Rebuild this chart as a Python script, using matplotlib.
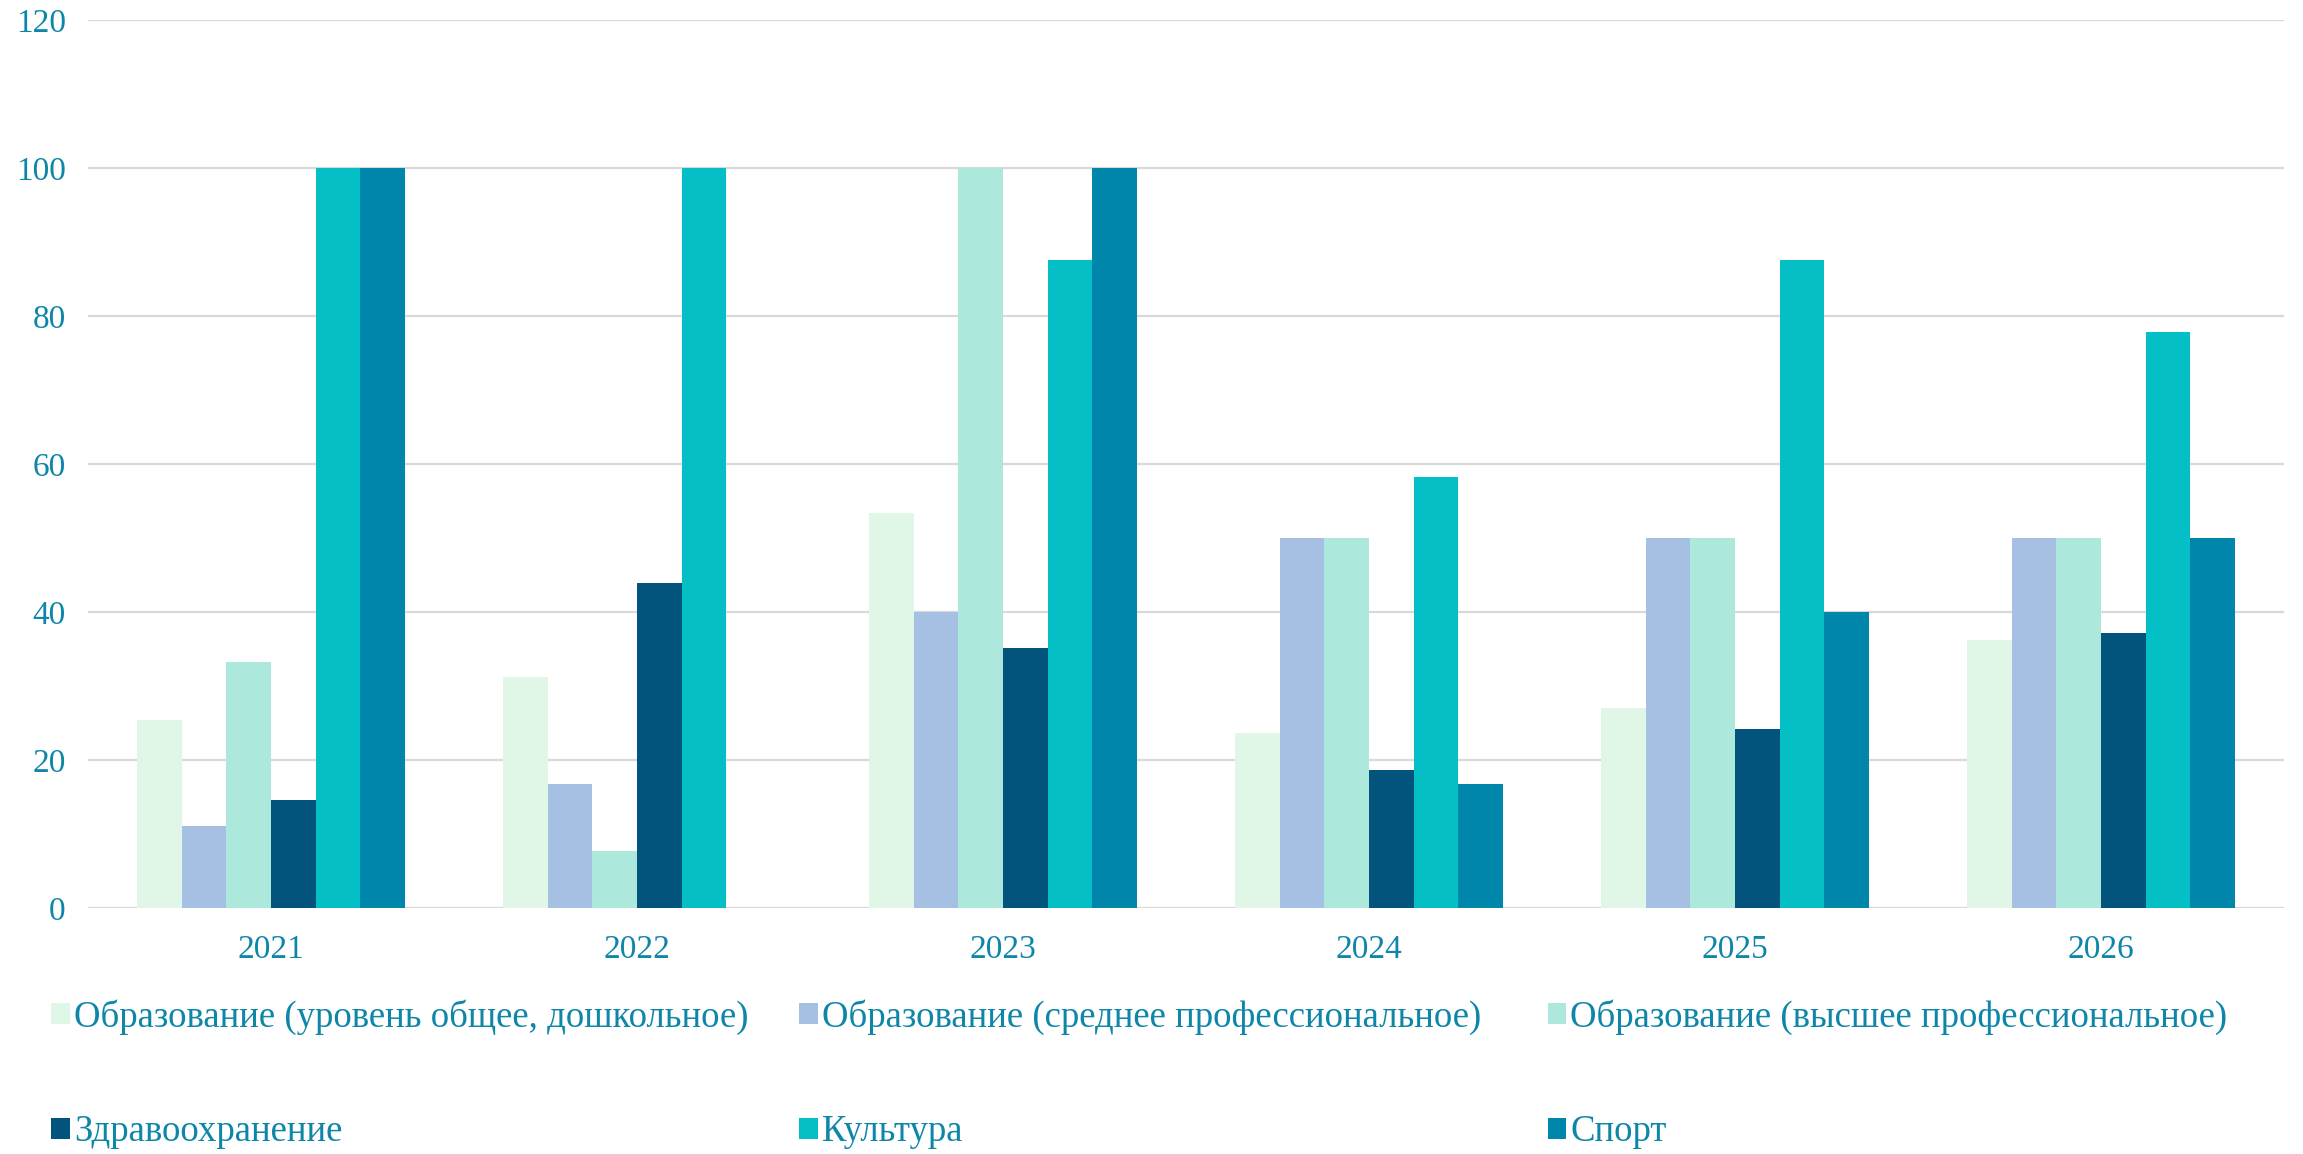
import numpy as np
import matplotlib.pyplot as plt
from matplotlib.patches import Patch

years = ['2021', '2022', '2023', '2024', '2025', '2026']

edu_general = [25.4, 31.2, 53.4, 23.7, 27.0, 36.2]
edu_secondary = [11.1, 16.7, 40.0, 50.0, 50.0, 50.0]
edu_higher = [33.3, 7.7, 100.0, 50.0, 50.0, 50.0]
health = [14.6, 43.9, 35.1, 18.7, 24.2, 37.2]
culture = [100.0, 100.0, 87.5, 58.3, 87.5, 77.8]
sport = [100.0, 0.0, 100.0, 16.7, 40.0, 50.0]

labels = ['Образование (уровень общее, дошкольное)',
          'Образование (среднее профессиональное)',
          'Образование (высшее профессиональное)',
          'Здравоохранение',
          'Культура',
          'Спорт']
colors = ['#E0F6E7', '#A6C0E3', '#ACE8DB', '#02547D', '#04BFC5', '#0086AA']
text_color = '#0E86A8'

plt.rcParams['font.family'] = ['Liberation Serif', 'DejaVu Serif']

fig = plt.figure(figsize=(23.03, 11.54), dpi=100)
ax = fig.add_axes([0.0382, 0.2132, 0.9536, 0.7695])

series = [edu_general, edu_secondary, edu_higher, health, culture, sport]
x = np.arange(len(years))
width = 1 / (len(series) + 2.19)
for i, vals in enumerate(series):
    offset = (i - (len(series) - 1) / 2) * width
    ax.bar(x + offset, vals, width, color=colors[i], label=labels[i], zorder=3)

ax.set_xlim(-0.5, len(years) - 0.5)
ax.set_ylim(0, 120)
ax.set_yticks(range(0, 121, 20))
ax.set_xticks(x)
ax.set_xticklabels(years)
ax.tick_params(axis='both', length=0, labelsize=24, labelcolor=text_color)
ax.tick_params(axis='x', pad=19)
ax.tick_params(axis='y', pad=16)
ax.grid(axis='y', color='#D9D9D9', linewidth=1.6, zorder=0)
ax.set_axisbelow(True)
for s in ax.spines.values():
    s.set_visible(False)

# legend laid out as three columns of two rows
handles = [Patch(facecolor=c) for c in colors]
col_x = [0.0222, 0.347, 0.672]
for j in range(3):
    fig.legend([handles[j], handles[j + 3]], [labels[j], labels[j + 3]],
               loc='upper left', bbox_to_anchor=(col_x[j], 0.1343),
               frameon=False, fontsize=26.5, labelcolor=text_color,
               handlelength=0.5, handleheight=0.5, handletextpad=0.12,
               labelspacing=2.18, borderaxespad=0, borderpad=0)

plt.savefig('out.png', dpi=100)
